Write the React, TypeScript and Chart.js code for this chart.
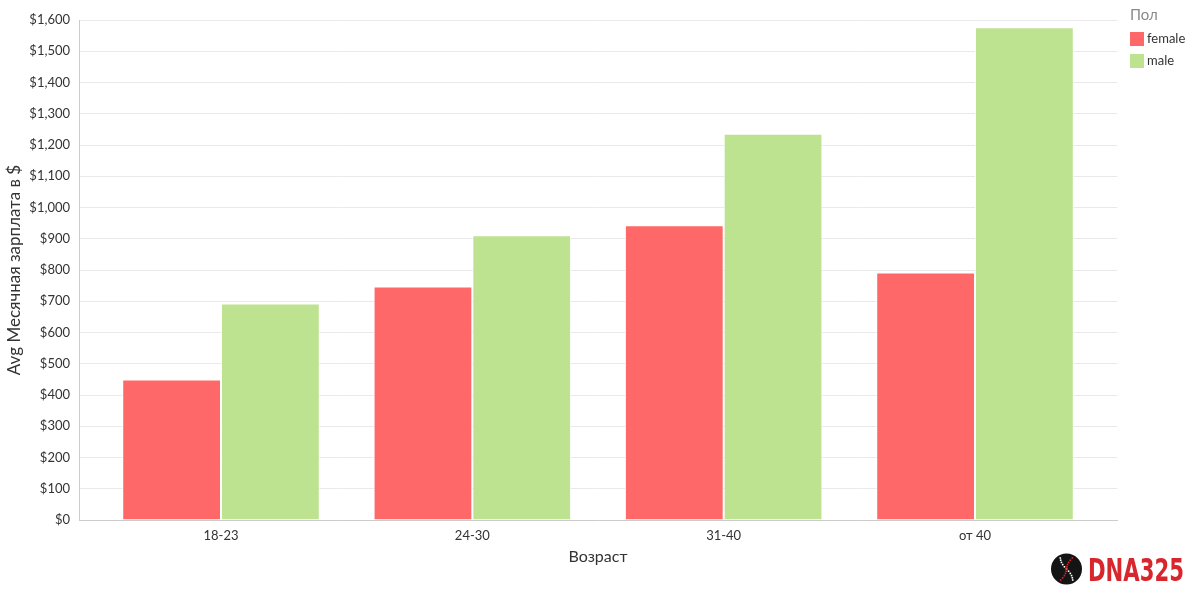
import React, { useEffect, useRef } from "react";
import { Chart, registerables } from "chart.js";

Chart.register(...registerables);

const categories = ["18-23", "24-30", "31-40", "от 40"];
const femaleValues = [450, 747, 943, 792];
const maleValues = [693, 911, 1236, 1577];
const seriesNames = ["female", "male"];
const seriesColors = ["#ff6868", "#bde390"];
const legendTitle = "Пол";
const yTitle = "Avg Месячная зарплата в $";
const xTitle = "Возраст";
const logoText = "DNA325";

const FONT = "Lato, 'Open Sans', sans-serif";
const TEXT = "#333333";

const legendPlugin = {
  id: "customLegend",
  afterDraw(chart: any) {
    const ctx = chart.ctx;
    const x0 = chart.chartArea.right + 13;
    ctx.save();
    ctx.textBaseline = "middle";
    ctx.textAlign = "left";
    ctx.font = `15px ${FONT}`;
    ctx.fillStyle = "#8a8a8a";
    ctx.fillText(legendTitle, x0, 15);
    chart.data.datasets.forEach((ds: any, i: number) => {
      const y = 39 + i * 22;
      ctx.fillStyle = ds.backgroundColor;
      ctx.fillRect(x0, y - 7, 14, 14);
      ctx.fillStyle = TEXT;
      ctx.font = `13px ${FONT}`;
      ctx.fillText(ds.label, x0 + 17, y);
    });
    ctx.restore();
  },
};

const logoPlugin = {
  id: "logo",
  afterDraw(chart: any) {
    const ctx = chart.ctx;
    const cx = 1066.5;
    const cy = 569;
    const r = 15.5;
    ctx.save();
    ctx.fillStyle = "#141414";
    ctx.beginPath();
    ctx.arc(cx, cy, r, 0, Math.PI * 2);
    ctx.fill();
    for (let k = 0; k <= 10; k++) {
      const s = k / 10 - 0.5;
      const yy = cy + s * 22;
      const xa = cx + s * 12 + Math.sin(s * 6) * 1.5;
      const xb = cx - s * 12 + Math.sin(s * 6) * 1.5;
      ctx.fillStyle = "#ffffff";
      ctx.fillRect(xa - 0.8, yy - 0.8, 1.6, 1.6);
      ctx.fillStyle = "#d8262d";
      ctx.fillRect(xb - 0.8, yy - 0.8, 1.6, 1.6);
    }
    ctx.font = `bold 32px 'Liberation Sans Narrow', 'DejaVu Sans Condensed', sans-serif`;
    const w = ctx.measureText(logoText).width;
    const target = 96;
    ctx.translate(1088, 581);
    ctx.scale(target / w, 1);
    ctx.fillStyle = "#d8262d";
    ctx.textBaseline = "alphabetic";
    ctx.textAlign = "left";
    ctx.fillText(logoText, 0, 0);
    ctx.restore();
  },
};

export default function App() {
  const canvasRef = useRef<HTMLCanvasElement>(null);

  useEffect(() => {
    if (!canvasRef.current) return;
    const chart = new Chart(canvasRef.current, {
      type: "bar",
      data: {
        datasets: [
          {
            label: seriesNames[0],
            data: femaleValues.map((v, i) => ({ x: i, y: v })),
            backgroundColor: seriesColors[0],
            borderColor: "rgba(255,255,255,0.9)",
            borderWidth: 1,
          },
          {
            label: seriesNames[1],
            data: maleValues.map((v, i) => ({ x: i, y: v })),
            backgroundColor: seriesColors[1],
            borderColor: "rgba(255,255,255,0.9)",
            borderWidth: 1,
          },
        ],
      },
      options: {
        animation: false,
        responsive: true,
        maintainAspectRatio: false,
        layout: { padding: { top: 20, right: 83, bottom: 0, left: 0 } },
        datasets: {
          bar: { categoryPercentage: 0.786, barPercentage: 1 },
        } as any,
        plugins: {
          legend: { display: false },
          tooltip: { enabled: false },
        },
        scales: {
          x: {
            type: "linear",
            offset: false,
            min: -0.565,
            max: 3.565,
            afterBuildTicks: (s: any) => {
              s.ticks = categories.map((_, i) => ({ value: i }));
            },
            afterFit: (s: any) => {
              s.height = 80;
            },
            ticks: {
              callback: (v: any) => categories[v] ?? "",
              font: { family: FONT, size: 13 },
              color: TEXT,
              padding: 8,
              autoSkip: false,
              maxRotation: 0,
            },
            grid: { display: false, drawTicks: false, offset: false },
            border: { color: "#cccccc" },
            title: {
              display: true,
              text: xTitle,
              font: { family: FONT, size: 16 },
              color: TEXT,
              padding: { top: 0, bottom: 34 },
            },
          },
          y: {
            min: 0,
            max: 1600,
            afterFit: (s: any) => {
              s.width = 79;
            },
            ticks: {
              stepSize: 100,
              callback: (v: any) => "$" + Number(v).toLocaleString("en-US"),
              font: { family: FONT, size: 13 },
              color: TEXT,
              padding: 9,
            },
            grid: { color: "#e9e9e9", drawTicks: false },
            border: { color: "#cccccc" },
            title: {
              display: true,
              text: yTitle,
              font: { family: FONT, size: 17 },
              color: TEXT,
              padding: { top: 4, bottom: 0 },
            },
          },
        },
      },
      plugins: [legendPlugin, logoPlugin],
    });
    return () => chart.destroy();
  }, []);

  return (
    <div style={{ position: "fixed", left: 0, top: 0, width: 1200, height: 600, background: "#fff" }}>
      <canvas ref={canvasRef} />
    </div>
  );
}
